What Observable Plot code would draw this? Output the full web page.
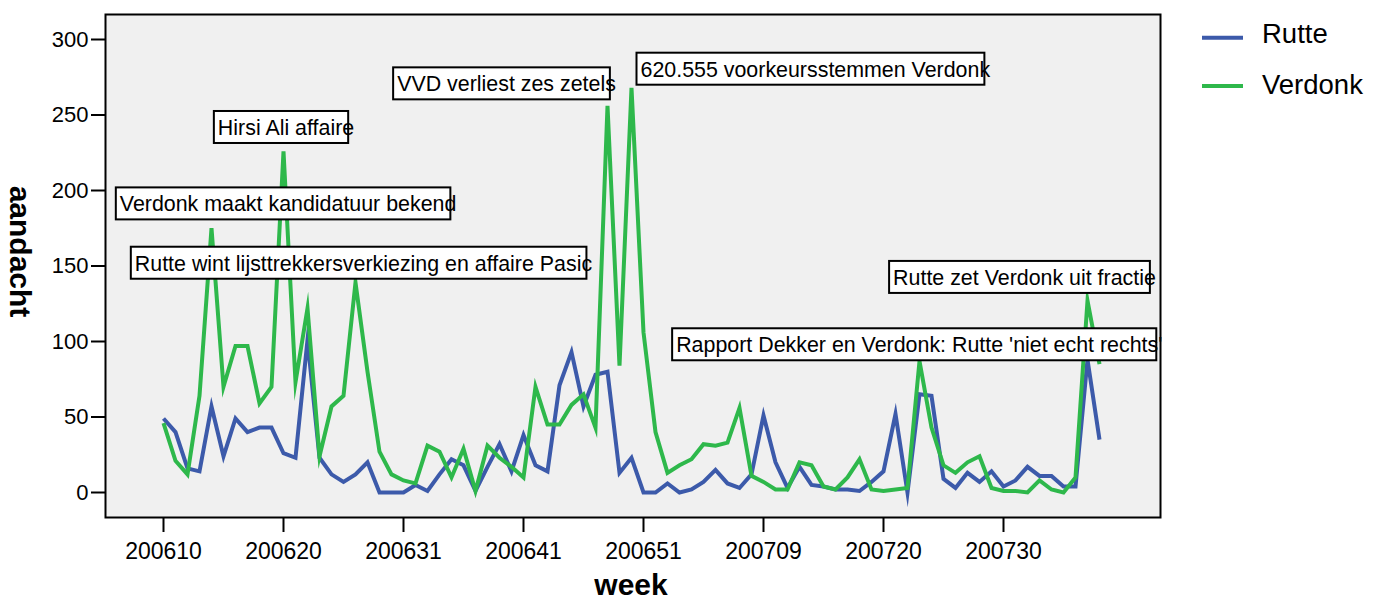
<!DOCTYPE html>
<html>
<head>
<meta charset="utf-8">
<script src="https://cdn.jsdelivr.net/npm/d3@7"></script>
<script src="https://cdn.jsdelivr.net/npm/@observablehq/plot@0.6"></script>
<style>
  body { margin: 0; background: #fff; }
  #chart svg { display: block; }
</style>
</head>
<body>
<div id="chart"></div>
<script>
// ---- data ----
const weeks = [
  "200610","200611","200612","200613","200614","200615","200616","200617","200618","200619",
  "200620","200621","200622","200623","200624","200625","200627","200628","200629","200630",
  "200631","200632","200633","200634","200635","200636","200637","200638","200639","200640",
  "200641","200642","200643","200644","200645","200646","200647","200648","200649","200650",
  "200651","200652","200701","200702","200703","200704","200705","200706","200707","200708",
  "200709","200710","200711","200712","200713","200714","200716","200717","200718","200719",
  "200720","200721","200722","200723","200724","200725","200726","200727","200728","200729",
  "200730","200731","200732","200733","200734","200735","200736","200737","200738"
];
const rutte = [
  49,40,16,14,57,24,49,40,43,43,
  26,23,101,23,12,7,12,20,0,0,
  0,5,1,12,22,18,1,17,32,14,
  38,18,14,71,93,57,78,80,13,23,
  0,0,6,0,2,7,15,6,3,12,
  51,20,3,17,5,4,2,2,1,7,
  14,52,0,65,64,9,3,13,7,14,
  4,8,17,11,11,4,4,88,35
];
const verdonk = [
  46,21,12,64,175,70,97,97,59,70,
  226,73,122,24,57,64,139,80,27,12,
  8,6,31,27,10,29,1,31,23,17,
  10,70,45,45,58,65,43,256,84,268,
  106,40,13,18,22,32,31,33,56,11,
  7,2,2,20,18,4,2,10,22,2,
  1,2,3,87,43,18,13,20,24,3,
  1,1,0,8,2,0,10,127,85
];
const seriesNames = ["Rutte", "Verdonk"];
const seriesColors = ["#3c5aaa", "#2eb84b"];
const tickWeeks = ["200610","200620","200631","200641","200651","200709","200720","200730"];
const yTicks = [0, 50, 100, 150, 200, 250, 300];

// annotations: label, position along week axis (week index), value level
const annLabels = [
  "Hirsi Ali affaire",
  "Verdonk maakt kandidatuur bekend",
  "Rutte wint lijsttrekkersverkiezing en affaire Pasic",
  "VVD verliest zes zetels",
  "620.555 voorkeursstemmen Verdonk",
  "Rapport Dekker en Verdonk: Rutte 'niet echt rechts'",
  "Rutte zet Verdonk uit fractie"
];
const annWeekPos = [4.53, -3.64, -2.39, 19.47, 39.75, 42.72, 60.8];
const annValue   = [241.3, 190.7, 151.4, 270.2, 279.9, 97.4, 142.0];

// ---- build table ----
const rows = [];
weeks.forEach((w, i) => {
  rows.push({i, week: w, series: "Rutte", value: rutte[i]});
});
weeks.forEach((w, i) => {
  rows.push({i, week: w, series: "Verdonk", value: verdonk[i]});
});
const annIdx = d3.range(annLabels.length);
const tickIdx = tickWeeks.map(w => weeks.indexOf(w));

const FONT = '"Liberation Sans", Arial, Helvetica, sans-serif';

const chart = Plot.plot({
  width: 1385,
  height: 600,
  marginLeft: 105,
  marginRight: 225,
  marginTop: 14,
  marginBottom: 83,
  style: {fontFamily: FONT, fontSize: "22px", color: "#000", background: "#fff", overflow: "visible"},
  x: {type: "linear", domain: [-58 / 12, 997 / 12]},
  y: {domain: [-25 / 1.51, 478 / 1.51]},
  color: {domain: seriesNames, range: seriesColors},
  marks: [
    Plot.frame({fill: "#f0f0f0", stroke: "none"}),
    Plot.line(rows, {
      x: "i", y: "value", z: "series", stroke: "series",
      strokeWidth: 4, strokeLinejoin: "miter", strokeMiterlimit: 10, strokeLinecap: "butt"
    }),
    Plot.text(annIdx, {
      x: i => annWeekPos[i], y: i => annValue[i], text: i => annLabels[i],
      textAnchor: "start", fontSize: 21.4, fill: "#000"
    }),
    Plot.frame({stroke: "#000", strokeWidth: 2}),
    Plot.axisX({ticks: tickIdx, tickFormat: i => weeks[i], tickSize: 15, tickPadding: 10, strokeWidth: 2, fontSize: 23, label: null}),
    Plot.axisY({ticks: yTicks, tickSize: 14, tickPadding: 3, strokeWidth: 2, fontSize: 22, label: null})
  ]
});

document.getElementById("chart").append(chart);

// annotation boxes behind each label
const NS = "http://www.w3.org/2000/svg";
d3.select(chart).selectAll('g[aria-label="text"] text').each(function () {
  const b = this.getBBox();
  const r = document.createElementNS(NS, "rect");
  r.setAttribute("x", b.x - 4);
  r.setAttribute("y", b.y - 5);
  r.setAttribute("width", b.width - 2);
  r.setAttribute("height", 32);
  r.setAttribute("fill", "#fff");
  r.setAttribute("stroke", "#000");
  r.setAttribute("stroke-width", 2);
  const t = this.getAttribute("transform");
  if (t) r.setAttribute("transform", t);
  this.parentNode.insertBefore(r, this);
});

const svg = d3.select(chart);
// axis titles
svg.append("text")
  .attr("transform", "translate(10,251.5) rotate(90)")
  .attr("text-anchor", "middle")
  .attr("font-family", FONT).attr("font-weight", "bold").attr("font-size", 30)
  .attr("fill", "#000")
  .text("aandacht");
svg.append("text")
  .attr("x", 631).attr("y", 595)
  .attr("text-anchor", "middle")
  .attr("font-family", FONT).attr("font-weight", "bold").attr("font-size", 30)
  .attr("fill", "#000")
  .text("week");

// legend
const lg = svg.append("g");
seriesNames.forEach((name, k) => {
  const ly = [37.7, 86][k];
  const by = [43, 94][k];
  lg.append("line").attr("x1", 1202).attr("x2", 1243).attr("y1", ly).attr("y2", ly)
    .attr("stroke", seriesColors[k]).attr("stroke-width", 4);
  lg.append("text").attr("x", 1262).attr("y", by)
    .attr("text-anchor", "start")
    .attr("font-family", FONT).attr("font-size", 27.5).attr("fill", "#000")
    .text(name);
});
</script>
</body>
</html>
